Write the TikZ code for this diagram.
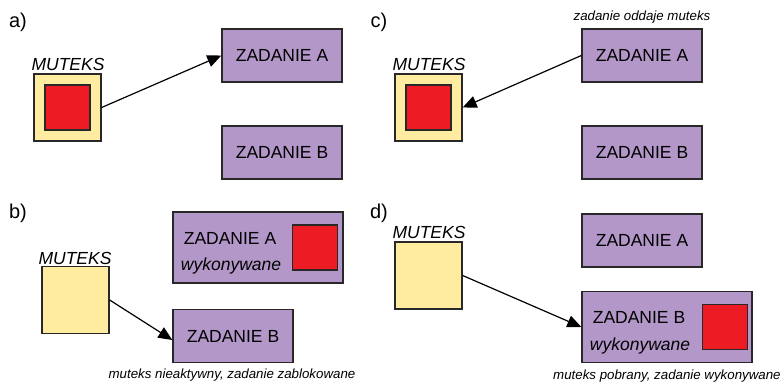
\documentclass[tikz,border=0pt]{standalone}
\usepackage{fontspec}
\setmainfont{Liberation Sans}
\usetikzlibrary{arrows.meta}
\definecolor{taskfill}{RGB}{178,151,200}
\definecolor{mutfill}{RGB}{255,236,160}
\definecolor{lockred}{RGB}{237,28,36}
\definecolor{edge}{RGB}{40,40,40}
\tikzset{
  box/.style={draw=edge,line width=1.3pt,inner sep=0pt},
  taskbox/.style={box,fill=taskfill,minimum width=120pt,minimum height=53pt,font=\fontsize{17.5}{20}\selectfont},
  bigtask/.style={box,fill=taskfill,minimum width=170pt,minimum height=71pt},
  mutbox/.style={box,fill=mutfill,minimum width=67pt,minimum height=67pt},
  lockbox/.style={box,fill=lockred,minimum width=45pt,minimum height=45pt},
  mutlabel/.style={inner sep=0pt,font=\fontsize{17.5}{20}\selectfont\itshape},
  tasktext/.style={inner sep=0pt,font=\fontsize{17.5}{20}\selectfont},
  tasknote/.style={inner sep=0pt,font=\fontsize{17.5}{20}\selectfont\itshape},
  caption/.style={inner sep=0pt,font=\fontsize{13.3}{15}\selectfont\itshape},
  panel/.style={inner sep=0pt,font=\fontsize{20}{22}\selectfont},
  conn/.style={draw=black,line width=1.2pt,-{Triangle[length=14pt,width=12pt]}}
}
\begin{document}
\begin{tikzpicture}[x=1pt,y=-1pt]
\useasboundingbox (0,0) rectangle (780,381);
% panel a
\node[panel] (la) at (18,22) {a)};
\node[mutlabel] (ma) at (68,64) {MUTEKS};
\node[mutbox] (ya) at (67.5,107.5) {};
\node[lockbox] (ra) at (67.5,107.5) {};
\node[taskbox] (aA) at (282,55.5) {ZADANIE A};
\node[taskbox] (aB) at (282,152.5) {ZADANIE B};
\draw[conn] (ya.east) -- (aA.west);
% panel c
\node[panel] (lc) at (379,22) {c)};
\node[mutlabel] (mc) at (429,64) {MUTEKS};
\node[mutbox] (yc) at (428.5,107.5) {};
\node[lockbox] (rc) at (428.5,107.5) {};
\node[taskbox] (cA) at (642,55.5) {ZADANIE A};
\node[taskbox] (cB) at (642,152.5) {ZADANIE B};
\node[caption] (capc) at (642,17) {zadanie oddaje muteks};
\draw[conn] (cA.west) -- (yc.east);
% panel b
\node[panel] (lb) at (18,213) {b)};
\node[mutlabel] (mb) at (75,258) {MUTEKS};
\node[mutbox] (yb) at (75.5,300) {};
\node[bigtask] (bA) at (258,247.5) {};
\node[lockbox] (rb) at (315,247.5) {};
\node[tasktext] (bAt) at (230,238) {ZADANIE A};
\node[tasknote] (bAn) at (231,266) {wykonywane};
\node[taskbox] (bB) at (233,336) {ZADANIE B};
\coordinate (bBin) at ([yshift=-4pt]bB.west);
\draw[conn] (yb.east) -- (bBin);
\node[caption] (capb) at (232,375) {muteks nieaktywny, zadanie zablokowane};
% panel d
\node[panel] (ld) at (379,213) {d)};
\node[mutlabel] (md) at (429,232) {MUTEKS};
\node[mutbox] (yd) at (428.5,275.5) {};
\node[taskbox] (dA) at (642,240.5) {ZADANIE A};
\node[bigtask] (dB) at (667,327) {};
\node[lockbox] (rd) at (725,327) {};
\node[tasktext] (dBt) at (639,317) {ZADANIE B};
\node[tasknote] (dBn) at (640,346) {wykonywane};
\draw[conn] (yd.east) -- (dB.west);
\node[caption,anchor=west] (capd) at (553,376) {muteks pobrany, zadanie wykonywane};
\end{tikzpicture}
\end{document}
